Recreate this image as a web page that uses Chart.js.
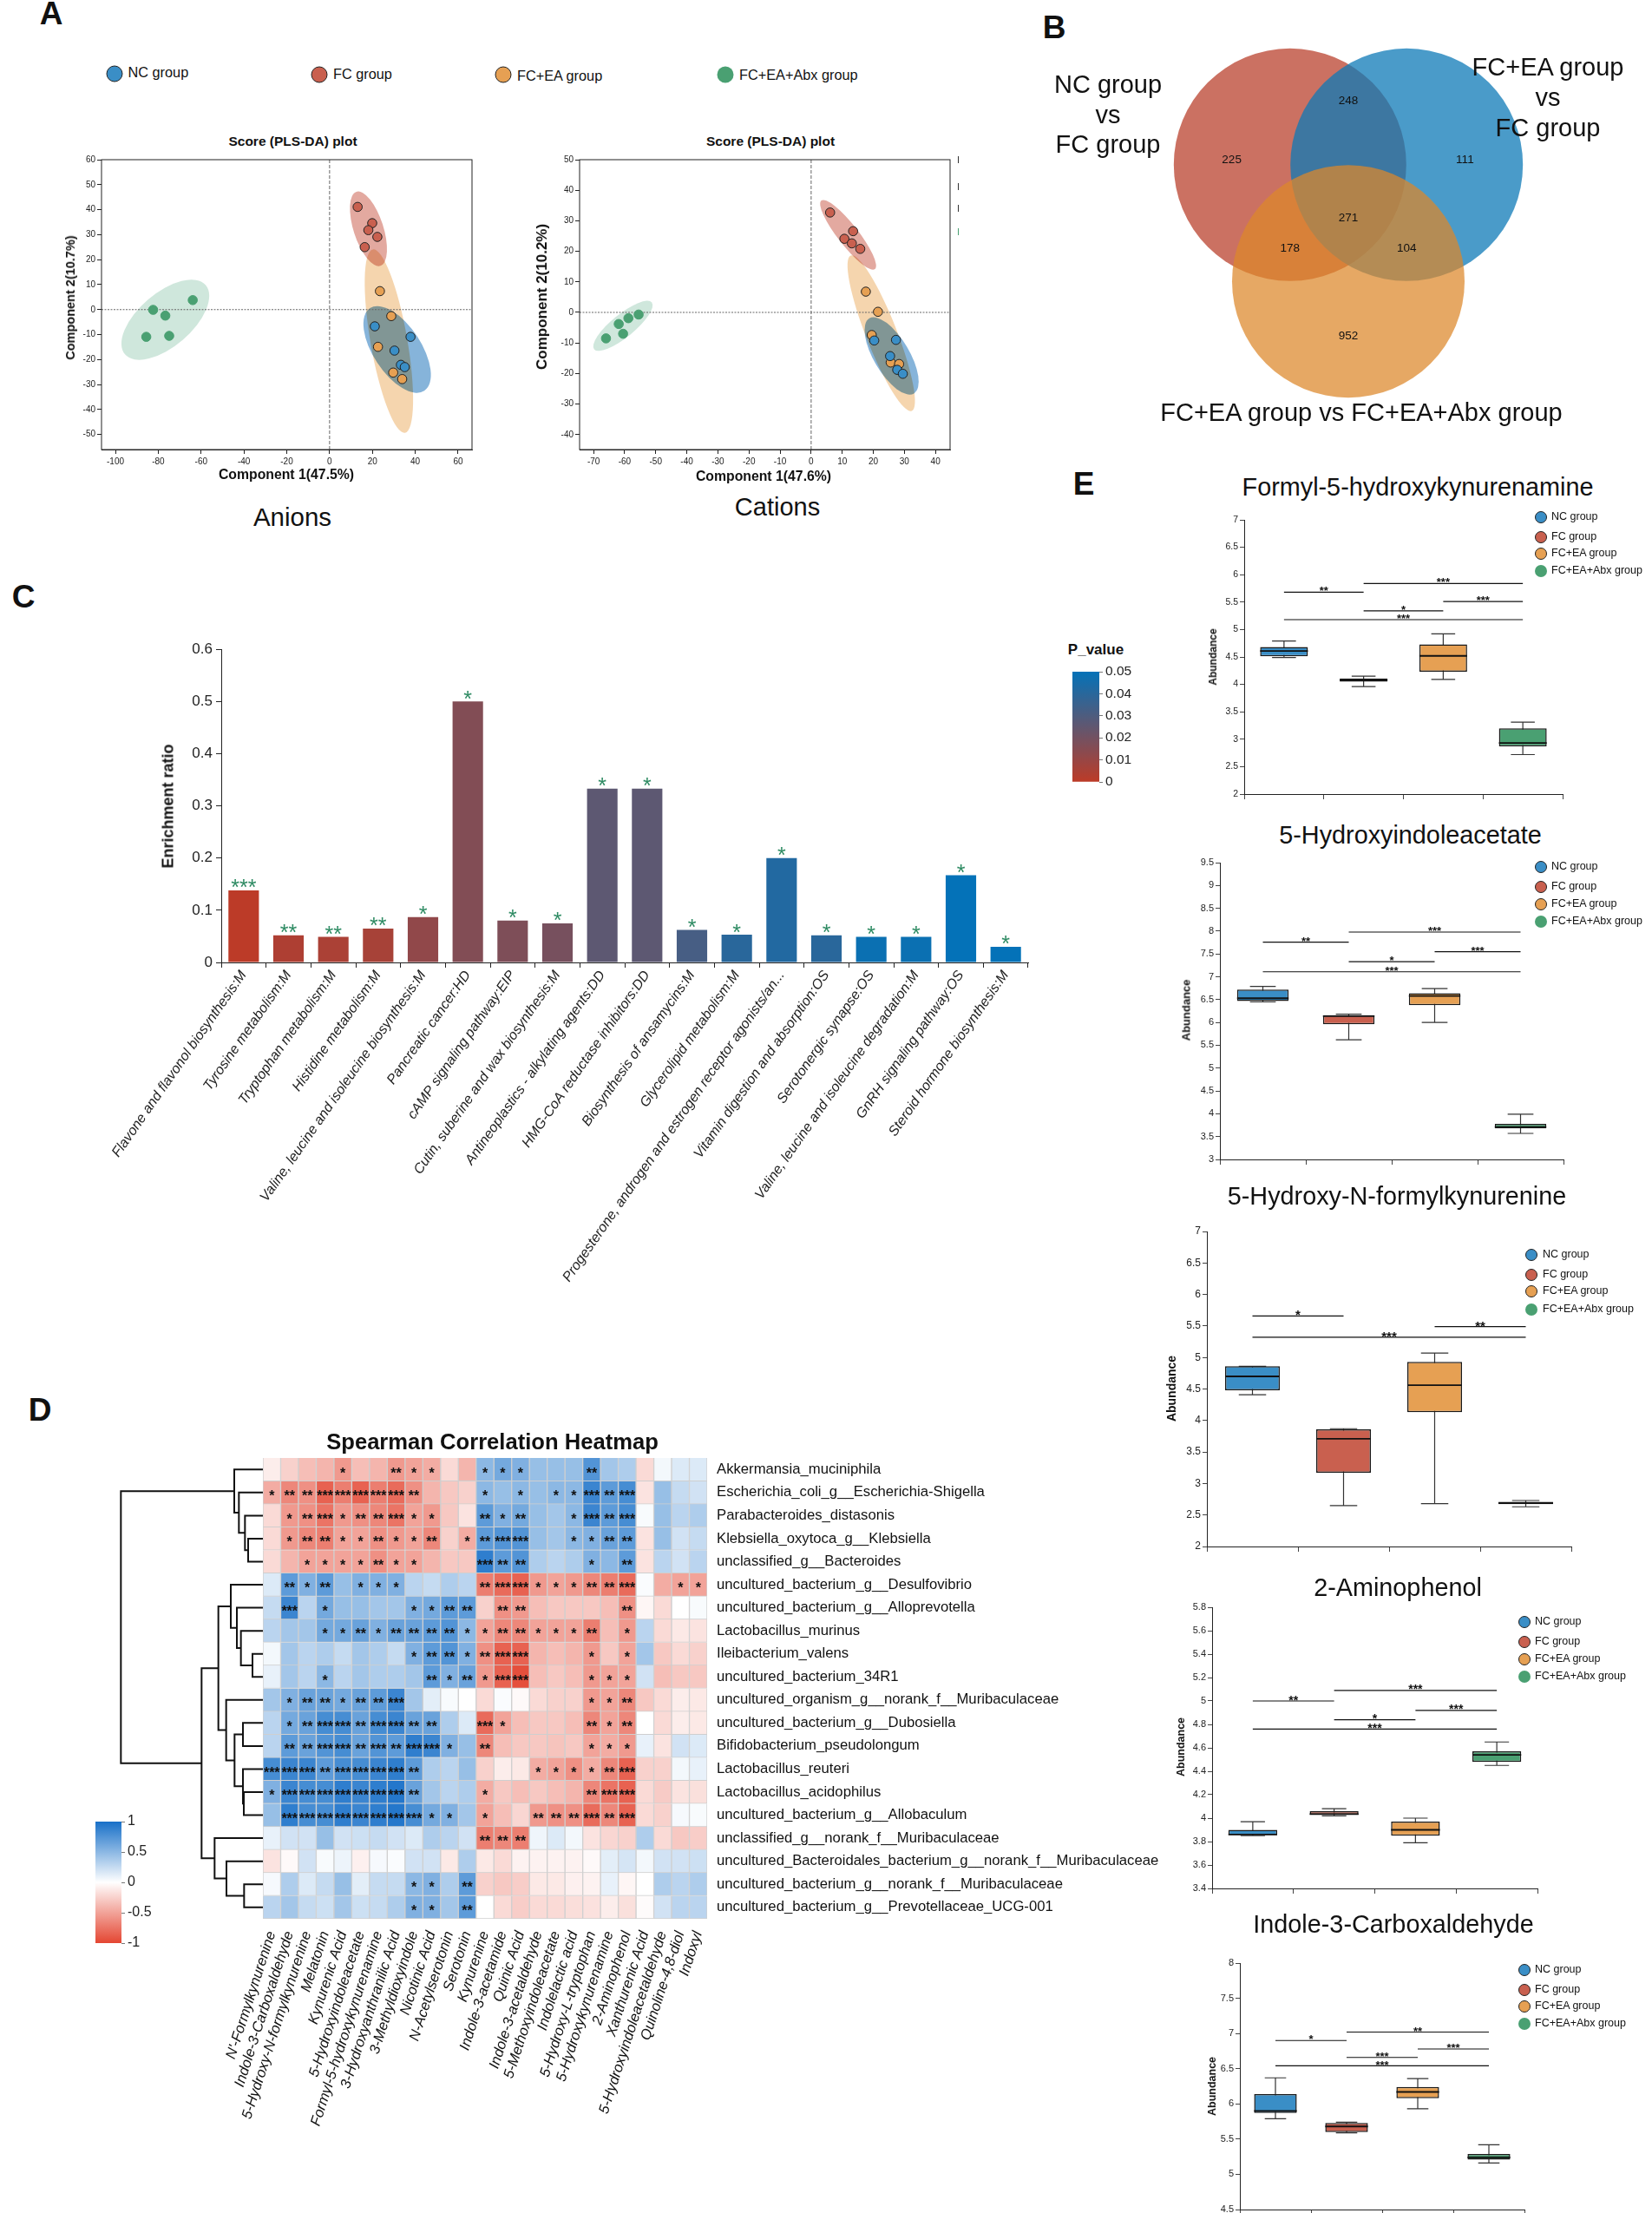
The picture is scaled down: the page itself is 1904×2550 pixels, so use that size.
<!DOCTYPE html>
<html>
<head>
<meta charset="utf-8">
<title>Metabolomics figure</title>
<script src="https://cdn.jsdelivr.net/npm/chart.js@4"></script>
<style>
  html, body { margin: 0; background: #fff; }
  #page { position: relative; width: 1904px; height: 2550px; overflow: hidden; font-family: "Liberation Sans", Arial, sans-serif; color: #111; }
  #page canvas { position: absolute; }
  .txt { position: absolute; white-space: pre; transform: translate(-50%, -50%); }
  .txt.left { transform: translate(0, -50%); }
  .dot { position: absolute; border-radius: 50%; transform: translate(-50%, -50%); box-sizing: border-box; }
</style>
</head>
<body>
<div id="page"></div>
<script>
// --- group info ---
const groupNames = ['NC group', 'FC group', 'FC+EA group', 'FC+EA+Abx group'];
const groupColors = ['#3A8EC6', '#C9604F', '#E6A053', '#4AA072'];
const ellipseColors = ['#86B4DA', '#E3A9A0', '#F5D5AE', '#CFE7DC'];

// --- A: PLS-DA scores, [x, y] per sample ---
const anionNC = [[21.1,-6.7],[37.8,-10.9],[30.3,-16.4],[33.3,-22.1],[35.1,-23]];
const anionFC = [[13.1,41.1],[19.9,34.6],[18.1,31.8],[22.3,29.1],[16.4,25]];
const anionEA = [[23.5,7.4],[28.8,-2.6],[22.6,-14.9],[29.7,-25.2],[33.9,-27.8]];
const anionAbx = [[-63.9,3.8],[-82.4,-0.1],[-76.7,-2.4],[-85.6,-10.9],[-74.9,-10.5]];
const cationNC = [[20.3,-9.2],[27.3,-9],[25.4,-14.3],[27.7,-18.8],[29.5,-20.1]];
const cationFC = [[6.1,32.7],[13.5,26.6],[10.7,24.1],[13.1,22.6],[15.8,20.8]];
const cationEA = [[17.6,6.8],[21.5,0.2],[19.5,-7.4],[25.6,-16.4],[28.3,-16.9]];
const cationAbx = [[-55.5,-0.7],[-58.8,-1.9],[-61.9,-3.8],[-60.5,-7],[-66,-8.5]];
// confidence ellipses: xMin, xMax, yTop, yBottom, x at the top of the ellipse
const anionEllipses = [[15.8,47.3,1.4,-33.3,22.3],[9.5,26.8,47.3,17.4,13.4],[16.4,39,24.1,-49.3,20.5],[-97.2,-56.2,12,-20.1,-64.5]];
const cationEllipses = [[17.2,34.6,-1.6,-26.9,20.1],[2.9,20.9,36.8,14,3.9],[11.7,33.4,18.7,-32.3,13.1],[-70.1,-51,3.8,-12.6,-52.7]];
const anionXTicks = [-100,-80,-60,-40,-20,0,20,40,60];
const anionYTicks = [-50,-40,-30,-20,-10,0,10,20,30,40,50,60];
const cationXTicks = [-70,-60,-50,-40,-30,-20,-10,0,10,20,30,40];
const cationYTicks = [-40,-30,-20,-10,0,10,20,30,40,50];

// --- B: venn ---
const vennCircleX = [-0.5, 0.5, 0];
const vennCircleY = [0.5, 0.5, -0.5];
const vennCounts = ['225','248','111','271','178','104','952'];
const vennCountX = [-1, 0, 1, 0, -0.5, 0.5, 0];
const vennCountY = [0.54, 1.05, 0.54, 0.04, -0.22, -0.22, -0.97];

// --- C: enrichment ---
const pathways = ['Flavone and flavonol biosynthesis:M','Tyrosine metabolism:M','Tryptophan metabolism:M','Histidine metabolism:M','Valine, leucine and isoleucine biosynthesis:M','Pancreatic cancer:HD','cAMP signaling pathway:EIP','Cutin, suberine and wax biosynthesis:M','Antineoplastics - alkylating agents:DD','HMG-CoA reductase inhibitors:DD','Biosynthesis of ansamycins:M','Glycerolipid metabolism:M','Progesterone, androgen and estrogen receptor agonists/an...','Vitamin digestion and absorption:OS','Serotonergic synapse:OS','Valine, leucine and isoleucine degradation:M','GnRH signaling pathway:OS','Steroid hormone biosynthesis:M'];
const enrichment = [0.138,0.052,0.049,0.065,0.087,0.5,0.08,0.075,0.333,0.333,0.0625,0.053,0.2,0.052,0.049,0.049,0.167,0.03];
const pValues = [0.0003,0.004,0.005,0.006,0.012,0.016,0.017,0.019,0.026,0.026,0.032,0.04,0.042,0.04,0.048,0.048,0.05,0.05];
const pathwayStars = ['***','**','**','**','*','*','*','*','*','*','*','*','*','*','*','*','*','*'];

// --- D: heatmap ---
const metabolites = ["N'-Formylkynurenine",'Indole-3-Carboxaldehyde','5-Hydroxy-N-formylkynurenine','Melatonin','Kynurenic Acid','5-Hydroxyindoleacetate','Formyl-5-hydroxykynurenamine','3-Hydroxyanthranilic Acid','3-Methyldioxyindole','Nicotinic Acid','N-Acetylserotonin','Serotonin','Kynurenine','Indole-3-acetamide','Quinic Acid','Indole-3-acetaldehyde','5-Methoxyindoleacetate','Indolelactic acid','5-Hydroxy-L-tryptophan','5-Hydroxykynurenamine','2-Aminophenol','Xanthurenic Acid','5-Hydroxyindoleacetaldehyde','Quinoline-4,8-diol','Indoxyl'];
const taxa = ['Akkermansia_muciniphila','Escherichia_coli_g__Escherichia-Shigella','Parabacteroides_distasonis','Klebsiella_oxytoca_g__Klebsiella','unclassified_g__Bacteroides','uncultured_bacterium_g__Desulfovibrio','uncultured_bacterium_g__Alloprevotella','Lactobacillus_murinus','Ileibacterium_valens','uncultured_bacterium_34R1','uncultured_organism_g__norank_f__Muribaculaceae','uncultured_bacterium_g__Dubosiella','Bifidobacterium_pseudolongum','Lactobacillus_reuteri','Lactobacillus_acidophilus','uncultured_bacterium_g__Allobaculum','unclassified_g__norank_f__Muribaculaceae','uncultured_Bacteroidales_bacterium_g__norank_f__Muribaculaceae','uncultured_bacterium_g__norank_f__Muribaculaceae','uncultured_bacterium_g__Prevotellaceae_UCG-001'];
const correlations = [
  [-.1,-.25,-.35,-.4,-.55,-.35,-.4,-.55,-.5,-.45,-.2,-.4,.5,.6,.55,.45,.45,.45,.75,.4,.35,-.2,.05,.15,.15],
  [-.45,-.65,-.6,-.85,-.7,-.85,-.7,-.8,-.6,-.4,-.3,-.25,.5,.45,.5,.45,.5,.5,.85,.7,.8,-.15,.45,.25,.2],
  [-.2,-.55,-.6,-.75,-.55,-.6,-.65,-.75,-.5,-.55,-.3,-.15,.7,.55,.6,.45,.4,.5,.85,.7,.8,.03,.45,.3,.35],
  [-.2,-.55,-.65,-.7,-.5,-.5,-.6,-.55,-.5,-.65,-.25,-.45,.7,.75,.75,.45,.4,.5,.55,.65,.7,-.15,.45,.2,.25],
  [-.2,-.4,-.5,-.5,-.5,-.5,-.6,-.5,-.5,-.4,-.3,-.3,.9,.7,.75,.35,.3,.35,.55,.5,.7,-.15,.3,.2,.3],
  [.15,.7,.55,.7,.45,.55,.55,.55,.3,.25,.35,.3,-.7,-.8,-.85,-.55,-.5,-.55,-.65,-.7,-.8,.02,-.45,-.5,-.5],
  [.25,.85,.3,.6,.45,.45,.4,.4,.55,.6,.7,.7,-.25,-.6,-.55,-.35,-.3,-.3,-.3,-.35,-.6,-.05,-.2,0,.03],
  [.3,.4,.4,.6,.6,.65,.55,.65,.65,.7,.75,.5,-.5,-.65,-.65,-.5,-.5,-.5,-.7,-.35,-.55,.3,-.2,-.12,-.15],
  [.05,.4,.3,.35,.25,.4,.35,.25,.55,.7,.75,.55,-.6,-.85,-.85,-.4,-.35,-.4,-.55,-.3,-.5,.4,-.3,-.2,-.25],
  [.1,.4,.3,.5,.3,.4,.35,.35,.4,.7,.55,.65,-.55,-.85,-.95,-.35,-.3,-.35,-.55,-.5,-.5,.2,-.35,-.3,-.3],
  [.4,.55,.65,.65,.6,.65,.7,.85,.4,.12,.03,0,-.2,.02,-.03,-.2,-.25,-.25,-.55,-.5,-.65,-.3,-.2,-.1,-.12],
  [.3,.6,.65,.8,.8,.65,.8,.85,.65,.65,.35,.15,-.8,-.5,-.35,-.3,-.3,-.35,-.65,-.5,-.65,0,-.2,-.1,-.12],
  [.3,.7,.65,.75,.8,.65,.75,.7,.9,.85,.55,.45,-.65,-.35,-.3,-.3,-.32,-.3,-.5,-.45,-.55,.1,-.15,.2,.15],
  [.8,.85,.85,.7,.8,.8,.85,.9,.7,.35,.3,.45,-.25,-.1,-.12,-.45,-.5,-.6,-.45,-.65,-.85,-.25,-.25,.05,.1],
  [.55,.85,.8,.8,.9,.85,.9,.95,.65,.4,.3,.35,-.45,-.3,-.35,-.3,-.35,-.4,-.65,-.75,-.85,-.2,-.28,-.15,-.17],
  [.45,.9,.8,.8,.9,.85,.9,.95,.8,.6,.55,.4,-.5,-.35,-.22,-.55,-.6,-.6,-.8,-.65,-.85,-.2,-.25,.04,.03],
  [.1,.2,.2,.45,.2,.22,.25,.2,.15,.35,.3,.2,-.7,-.65,-.7,.07,.15,.05,-.15,-.22,-.25,.35,-.2,-.3,-.27],
  [-.15,-.03,.2,.03,.08,-.08,.04,.02,.2,.2,-.12,.35,-.12,-.2,-.07,-.07,-.07,-.07,-.03,.12,.18,.05,.2,.2,.22],
  [.04,.35,.15,.25,.45,.12,.25,.25,.5,.55,.35,.7,-.25,-.3,-.27,-.12,-.12,-.08,-.07,.1,-.05,0,.35,.3,.35],
  [.3,.4,.25,.22,.4,.22,.25,.35,.55,.55,.4,.7,0,-.2,-.27,-.2,-.2,-.18,-.16,-.1,-.17,-.02,.2,.3,.3]
];
const starCounts = [
  '0000100211001110002000000','1223333320001010113230000','0123122311002120013230000',
  '0122112112012330011220000','0011112110003220001020000','0212011100002331112230011',
  '0301000011220220000020000','0001121222211221112010000','0000000012212330001010000',
  '0001000002121330001110000','0122122300000000001120000','0123323322003100002120000',
  '0223323233102000001110000','3332333320000001111230000','1333333320001000002330000',
  '0333333331101002223230000','0000000000002220000000000','0000000000000000000000000',
  '0000000011020000000000000','0000000011020000000000000'
];
// dendrogram merges: [child, child, height]; child >= 0 is a row, child < 0 is merge -(child + 1)
const dendroMerges = [[3,4,51],[2,-1,62],[1,-2,83],[0,-3,99],[8,9,36],[7,-5,76],[6,-6,90],[5,-7,111],[11,12,69],[14,15,66],[13,-10,69],[-9,-11,98],[10,-12,127],[-8,-13,154],[18,19,65],[17,-15,126],[16,-16,167],[-14,-17,212],[-4,-18,491]];

// --- E: boxes, [low, q1, median, q3, high] per group; brackets [from, to, y, stars] ---
const formylBoxes = [[4.49,4.51,4.61,4.68,4.79],[3.96,4.05,4.08,4.11,4.15],[4.09,4.23,4.52,4.73,4.92],[2.72,2.87,2.93,3.2,3.31]];
const formylBrackets = [[0,1,5.68,'**'],[1,3,5.84,'***'],[2,3,5.51,'***'],[1,2,5.34,'*'],[0,3,5.18,'***']];
const hiaaBoxes = [[6.45,6.47,6.53,6.72,6.79],[5.62,5.96,6.14,6.16,6.18],[6,6.38,6.58,6.64,6.74],[3.57,3.68,3.71,3.78,3.99]];
const hiaaBrackets = [[0,1,7.76,'**'],[1,3,7.98,'***'],[2,3,7.55,'***'],[1,2,7.33,'*'],[0,3,7.11,'***']];
const nfkBoxes = [[4.41,4.48,4.7,4.86,4.86],[2.65,3.17,3.71,3.86,3.87],[2.68,4.13,4.56,4.93,5.07],[2.63,2.67,2.69,2.71,2.73]];
const nfkBrackets = [[0,1,5.66,'*'],[2,3,5.49,'**'],[0,3,5.32,'***']];
const aminoBoxes = [[3.85,3.855,3.86,3.9,3.97],[4.02,4.03,4.035,4.06,4.08],[3.79,3.85,3.9,3.97,4],[4.45,4.48,4.54,4.57,4.65]];
const aminoBrackets = [[0,1,5,'**'],[1,3,5.09,'***'],[2,3,4.92,'***'],[1,2,4.84,'*'],[0,3,4.76,'***']];
const icaBoxes = [[5.79,5.87,5.9,6.14,6.37],[5.59,5.6,5.68,5.73,5.74],[5.93,6.08,6.17,6.24,6.36],[5.16,5.21,5.24,5.29,5.42]];
const icaBrackets = [[0,1,6.9,'*'],[1,3,7.02,'**'],[2,3,6.78,'***'],[1,2,6.66,'***'],[0,3,6.54,'***']];

// ---------------------------------------------------------------------------
const FONT = '"Liberation Sans", Arial, sans-serif';
Chart.defaults.font.family = FONT;
Chart.defaults.color = '#222';
Chart.defaults.animation = false;
Chart.defaults.responsive = false;
Chart.defaults.plugins.legend.display = false;
Chart.defaults.plugins.tooltip.enabled = false;

const page = document.getElementById('page');

function label(text, x, y, size, opts = {}) {
    const el = document.createElement('div');
    el.className = 'txt' + (opts.left ? ' left' : '');
    el.textContent = text;
    el.style.left = x + 'px';
    el.style.top = y + 'px';
    el.style.fontSize = size + 'px';
    if (opts.bold) el.style.fontWeight = 'bold';
    if (opts.rotate) el.style.transform = `translate(-50%, -50%) rotate(${opts.rotate}deg)`;
    el.style.zIndex = 5;
    page.appendChild(el);
}

function dot(x, y, d, color, outline) {
    const el = document.createElement('div');
    el.className = 'dot';
    el.style.cssText = `left:${x}px;top:${y}px;width:${d}px;height:${d}px;background:${color};z-index:5;` +
        (outline ? 'border:1px solid #222;' : '');
    page.appendChild(el);
}

// plot is the wanted chart area, m the room around it for ticks
function placeChart(plot, m, config) {
    const canvas = document.createElement('canvas');
    canvas.width = plot.w + m.l + m.r;
    canvas.height = plot.h + m.t + m.b;
    canvas.style.left = (plot.x - m.l) + 'px';
    canvas.style.top = (plot.y - m.t) + 'px';
    page.appendChild(canvas);
    const scales = config.options.scales;
    const yRight = scales.y.position === 'right';
    config.options.layout = {
        autoPadding: false,
        padding: { top: m.t, left: yRight ? m.l : 0, right: yRight ? 0 : m.r, bottom: 0 }
    };
    // rotated labels ask for extra room, which would move the chart area
    const noPadding = s => { s.paddingLeft = s.paddingRight = s.paddingTop = s.paddingBottom = 0; };
    scales.x.afterFit = s => { s.height = m.b; noPadding(s); };
    scales.y.afterFit = s => { s.width = yRight ? m.r : m.l; noPadding(s); };
    return new Chart(canvas.getContext('2d'), config);
}

function fixedTicks(values) {
    return s => { s.ticks = values.map(v => ({ value: v })); };
}

function tickGrid(len, color) {
    return { drawOnChartArea: false, drawTicks: true, tickLength: len, color: color || '#222', lineWidth: 1 };
}

function drawStars(ctx, text, x, cy, size, color, weight) {
    ctx.save();
    ctx.font = `${weight || 'normal'} ${size}px ${FONT}`;
    ctx.fillStyle = color;
    ctx.textAlign = 'center';
    ctx.textBaseline = 'alphabetic';
    ctx.fillText(text, x, cy + 0.58 * size);
    ctx.restore();
}

function mix(a, b, t) {
    return `rgb(${a.map((c, i) => Math.round(c + (b[i] - c) * t)).join(',')})`;
}

// --- A ---
function scoreChart(plot, nc, fc, ea, abx, ellipses, xMin, xMax, xTicks, yMin, yMax, yTicks) {
    const sets = [abx, fc, nc, ea];
    const setColor = [3, 1, 0, 2];
    placeChart(plot, { l: 40, t: 10, r: 10, b: 30 }, {
        type: 'scatter',
        data: {
            datasets: sets.map((s, i) => ({
                data: s.map(p => ({ x: p[0], y: p[1] })),
                backgroundColor: groupColors[setColor[i]],
                borderColor: setColor[i] === 3 ? groupColors[3] : '#222',
                borderWidth: 1,
                pointRadius: 5.3
            }))
        },
        options: {
            scales: {
                x: { type: 'linear', min: xMin, max: xMax, afterBuildTicks: fixedTicks(xTicks), grid: tickGrid(5),
                     border: { color: '#333' }, ticks: { font: { size: 10 }, padding: 3, maxRotation: 0, autoSkip: false, callback: v => String(v) } },
                y: { min: yMin, max: yMax, afterBuildTicks: fixedTicks(yTicks), grid: tickGrid(5),
                     border: { color: '#222' }, ticks: { font: { size: 10 }, padding: 2, autoSkip: false, callback: v => String(v) } }
            }
        },
        plugins: [{
            id: 'scoreExtras',
            beforeDatasetsDraw(chart) {
                const { ctx, chartArea: a, scales: { x, y } } = chart;
                ctx.save();
                ctx.fillStyle = '#fff';
                ctx.fillRect(a.left, a.top, a.width, a.height);
                ctx.globalCompositeOperation = 'multiply';
                ellipses.forEach((e, i) => {
                    const l = x.getPixelForValue(e[0]), r = x.getPixelForValue(e[1]);
                    const t = y.getPixelForValue(e[2]), b = y.getPixelForValue(e[3]);
                    const cx = (l + r) / 2, cy = (t + b) / 2, hw = (r - l) / 2, hh = (b - t) / 2;
                    const cov = -(x.getPixelForValue(e[4]) - cx) * hh;
                    const d = hw * hw - hh * hh, sum = hw * hw + hh * hh;
                    const diff = Math.sqrt(d * d + 4 * cov * cov);
                    ctx.beginPath();
                    ctx.ellipse(cx, cy, Math.sqrt((sum + diff) / 2), Math.sqrt(Math.max(sum - diff, 0) / 2), Math.atan2(2 * cov, d) / 2, 0, Math.PI * 2);
                    ctx.fillStyle = ellipseColors[i];
                    ctx.fill();
                });
                ctx.globalCompositeOperation = 'source-over';
                ctx.strokeStyle = '#666';
                ctx.lineWidth = 1;
                ctx.setLineDash([4, 2]);
                ctx.beginPath();
                ctx.moveTo(x.getPixelForValue(0), a.top);
                ctx.lineTo(x.getPixelForValue(0), a.bottom);
                ctx.stroke();
                ctx.setLineDash([2, 1.5]);
                ctx.beginPath();
                ctx.moveTo(a.left, y.getPixelForValue(0));
                ctx.lineTo(a.right, y.getPixelForValue(0));
                ctx.stroke();
                ctx.setLineDash([]);
                ctx.strokeStyle = '#222';
                ctx.strokeRect(a.left, a.top, a.width, a.height);
                ctx.restore();
            }
        }]
    });
}

scoreChart({ x: 117, y: 184, w: 427, h: 334 }, anionNC, anionFC, anionEA, anionAbx, anionEllipses, -106.5, 66.5, anionXTicks, -56, 60, anionYTicks);
scoreChart({ x: 668, y: 184, w: 427, h: 334 }, cationNC, cationFC, cationEA, cationAbx, cationEllipses, -74.5, 44.7, cationXTicks, -44.9, 50, cationYTicks);

label('A', 59, 16, 37, { bold: true });
[[132, 85, 147.5, 83], [367.6, 86, 384, 85], [580, 86, 596, 86.5], [836, 86, 852, 86]].forEach((p, i) => {
    dot(p[0], p[1], 19, groupColors[i], i < 3);
    label(groupNames[i], p[2], p[3], 16.3, { left: true });
});
label('Score (PLS-DA) plot', 337.5, 163, 15.5, { bold: true });
label('Score (PLS-DA) plot', 888, 163, 15.5, { bold: true });
label('Component 1(47.5%)', 330, 547, 15.8, { bold: true });
label('Component 1(47.6%)', 880, 549, 15.8, { bold: true });
label('Component 2(10.7%)', 81, 343, 14.5, { bold: true, rotate: -90 });
label('Component 2(10.2%)', 625, 342, 17, { bold: true, rotate: -90 });
label('Anions', 337, 596, 29.5);
label('Cations', 896, 584, 29);
[[184, '#333'], [215, '#333'], [240, '#333'], [267, '#4AA072']].forEach(m => {
    const tick = document.createElement('div');
    tick.style.cssText = `position:absolute;left:1104px;top:${m[0] - 4}px;width:1px;height:8px;background:${m[1]};`;
    page.appendChild(tick);
});

// --- B ---
const vennFills = ['rgb(203,113,98)', 'rgba(14,122,183,0.75)', 'rgba(221,136,43,0.73)'];
placeChart({ x: 1339, y: 42, w: 430, h: 430 }, { l: 0, t: 0, r: 0, b: 0 }, {
    type: 'bubble',
    data: {
        datasets: [{
            data: vennCircleX.map((x, i) => ({ x, y: vennCircleY[i], r: 134 })),
            backgroundColor: vennFills,
            borderWidth: 0,
            clip: false
        }]
    },
    options: {
        scales: {
            x: { type: 'linear', min: -1.6, max: 1.6, display: false },
            y: { min: -1.6, max: 1.6, display: false }
        }
    },
    plugins: [{
        id: 'vennCounts',
        afterDatasetsDraw(chart) {
            const { ctx, scales: { x, y } } = chart;
            ctx.save();
            ctx.font = `13.5px ${FONT}`;
            ctx.fillStyle = '#111';
            ctx.textAlign = 'center';
            ctx.textBaseline = 'middle';
            vennCounts.forEach((c, i) => ctx.fillText(c, x.getPixelForValue(vennCountX[i]), y.getPixelForValue(vennCountY[i])));
            ctx.restore();
        }
    }]
});
label('B', 1215, 32, 37, { bold: true });
label('NC group', 1277, 97, 29);
label('vs', 1277, 132, 29);
label('FC group', 1277, 166, 29);
label('FC+EA group', 1784, 77, 29);
label('vs', 1784, 112, 29);
label('FC group', 1784, 147, 29);
label('FC+EA group vs FC+EA+Abx group', 1569, 475, 29);

// --- C ---
const pLow = [189, 59, 39], pHigh = [4, 114, 184];
placeChart({ x: 255, y: 748, w: 930, h: 361 }, { l: 200, t: 10, r: 10, b: 420 }, {
    type: 'bar',
    data: {
        labels: pathways,
        datasets: [{
            data: enrichment,
            backgroundColor: pValues.map(p => mix(pLow, pHigh, p / 0.05)),
            barPercentage: 0.68,
            categoryPercentage: 1
        }]
    },
    options: {
        scales: {
            x: { grid: tickGrid(6), border: { color: '#222' },
                 ticks: { autoSkip: false, minRotation: 55, maxRotation: 55, padding: 0, color: '#222', font: { size: 16, style: 'italic' } } },
            y: { min: 0, max: 0.6, grid: tickGrid(6), border: { color: '#222' },
                 ticks: { stepSize: 0.1, padding: 4, font: { size: 17 }, callback: v => +v.toFixed(1) } }
        }
    },
    plugins: [{
        id: 'pathwayStars',
        afterDatasetsDraw(chart) {
            chart.getDatasetMeta(0).data.forEach((bar, i) => {
                drawStars(chart.ctx, pathwayStars[i], bar.x, bar.y - 9, 25, '#2E8B63');
            });
        }
    }]
});
label('C', 27, 688, 37, { bold: true });
label('Enrichment ratio', 194, 929, 18, { bold: true, rotate: -90 });
label('P_value', 1263, 749, 17, { bold: true });

function colorBar(plot, min, max, step, stops, tickSize, m) {
    placeChart(plot, m, {
        type: 'bar',
        data: {
            labels: [''],
            datasets: [{
                data: [[min, max]],
                borderSkipped: false,
                barPercentage: 1,
                categoryPercentage: 1,
                backgroundColor(c) {
                    const a = c.chart.chartArea;
                    if (!a) return '#888';
                    const g = c.chart.ctx.createLinearGradient(0, a.bottom, 0, a.top);
                    stops.forEach((s, i) => g.addColorStop(i / (stops.length - 1), s));
                    return g;
                }
            }]
        },
        options: {
            scales: {
                x: { display: false },
                y: { position: 'right', min, max, border: { display: false }, grid: { drawOnChartArea: false, tickLength: 4, color: '#777' },
                     ticks: { stepSize: step, padding: 3, font: { size: tickSize }, callback: v => +v.toFixed(2) } }
            }
        }
    });
}
colorBar({ x: 1236, y: 774, w: 31, h: 127 }, 0, 0.05, 0.01, ['rgb(189,59,39)', 'rgb(4,114,184)'], 15.5, { l: 0, t: 8, r: 50, b: 8 });

// --- D ---
function heatColor(v) {
    return v >= 0 ? mix([255, 255, 255], [24, 112, 200], v) : mix([255, 255, 255], [228, 70, 50], -v);
}
placeChart({ x: 303, y: 1680, w: 512, h: 531 }, { l: 110, t: 5, r: 560, b: 240 }, {
    type: 'bar',
    data: {
        labels: metabolites,
        datasets: taxa.map((name, r) => ({
            label: name,
            data: metabolites.map(() => 1),
            backgroundColor: correlations[r].map(heatColor),
            borderColor: '#CFCFCF',
            borderWidth: 1,
            barPercentage: 1,
            categoryPercentage: 1
        }))
    },
    options: {
        scales: {
            x: { stacked: true, grid: { display: false, drawTicks: false }, border: { display: false },
                 ticks: { autoSkip: false, minRotation: 72, maxRotation: 72, padding: 12, color: '#111', font: { size: 16.7, style: 'italic' } } },
            y: { stacked: true, position: 'right', reverse: true, min: 0, max: 20,
                 afterBuildTicks: fixedTicks(taxa.map((_, r) => r + 0.5)),
                 grid: { display: false, drawTicks: false }, border: { display: false },
                 ticks: { autoSkip: false, padding: 11, color: '#111', font: { size: 16.7 }, callback: (v, i) => taxa[i] } }
        }
    },
    plugins: [{
        id: 'heatStars',
        afterDatasetsDraw(chart) {
            const { ctx, scales: { x, y } } = chart;
            starCounts.forEach((row, r) => {
                [...row].forEach((n, c) => {
                    if (n !== '0') drawStars(ctx, '*'.repeat(+n), x.getPixelForValue(c), y.getPixelForValue(r + 0.5), 16, '#111', 'bold');
                });
            });
        }
    }]
});

// dendrogram, one 4-point line per merge
const dendroPos = [], dendroHeight = [];
const childPos = c => (c >= 0 ? c + 0.5 : dendroPos[-c - 1]);
const childHeight = c => (c >= 0 ? 0 : dendroHeight[-c - 1]);
const dendroLines = dendroMerges.map((m, i) => {
    const [a, b, h] = m;
    dendroPos[i] = (childPos(a) + childPos(b)) / 2;
    dendroHeight[i] = h;
    return {
        data: [{ x: childHeight(a), y: childPos(a) }, { x: h, y: childPos(a) }, { x: h, y: childPos(b) }, { x: childHeight(b), y: childPos(b) }],
        showLine: true, borderColor: '#111', borderWidth: 2, pointRadius: 0, clip: false
    };
});
placeChart({ x: 135, y: 1680, w: 168, h: 531 }, { l: 0, t: 0, r: 0, b: 0 }, {
    type: 'scatter',
    data: { datasets: dendroLines },
    options: {
        scales: {
            x: { type: 'linear', min: 0, max: 504, reverse: true, display: false },
            y: { min: 0, max: 20, reverse: true, display: false }
        }
    }
});
label('D', 46, 1625, 37, { bold: true });
label('Spearman Correlation Heatmap', 567.5, 1661, 25.6, { bold: true });
colorBar({ x: 110, y: 2099, w: 30, h: 140 }, -1, 1, 0.5, ['rgb(228,70,50)', '#fff', 'rgb(24,112,200)'], 16, { l: 0, t: 10, r: 45, b: 10 });

// --- E ---
function boxChart(plot, boxes, brackets, yMin, yMax, step, tickSize, starSize) {
    placeChart(plot, { l: 32, t: 8, r: 6, b: 8 }, {
        type: 'bar',
        data: {
            labels: groupNames,
            datasets: [{
                data: boxes.map(b => [b[1], b[3]]),
                backgroundColor: groupColors,
                borderColor: '#1A1A1A',
                borderWidth: 1.5,
                borderSkipped: false,
                barPercentage: 0.6,
                categoryPercentage: 1
            }]
        },
        options: {
            scales: {
                x: { grid: tickGrid(6, '#444'), border: { color: '#222' }, ticks: { callback: () => '', maxRotation: 0 } },
                y: { min: yMin, max: yMax, grid: tickGrid(5, '#444'), border: { color: '#222' },
                     ticks: { stepSize: step, padding: 2, font: { size: tickSize }, callback: v => +v.toFixed(1) } }
            }
        },
        plugins: [{
            id: 'boxMarks',
            beforeDatasetsDraw(chart) {
                const { ctx, scales: { y } } = chart;
                ctx.save();
                ctx.strokeStyle = '#333';
                ctx.lineWidth = 1.2;
                chart.getDatasetMeta(0).data.forEach((bar, i) => {
                    const cap = bar.width / 4;
                    ctx.beginPath();
                    ctx.moveTo(bar.x, y.getPixelForValue(boxes[i][0]));
                    ctx.lineTo(bar.x, y.getPixelForValue(boxes[i][4]));
                    [0, 4].forEach(k => {
                        ctx.moveTo(bar.x - cap, y.getPixelForValue(boxes[i][k]));
                        ctx.lineTo(bar.x + cap, y.getPixelForValue(boxes[i][k]));
                    });
                    ctx.stroke();
                });
                ctx.restore();
            },
            afterDatasetsDraw(chart) {
                const { ctx, scales: { x, y } } = chart;
                ctx.save();
                ctx.strokeStyle = '#111';
                ctx.lineWidth = 1.8;
                chart.getDatasetMeta(0).data.forEach((bar, i) => {
                    ctx.beginPath();
                    ctx.moveTo(bar.x - bar.width / 2, y.getPixelForValue(boxes[i][2]));
                    ctx.lineTo(bar.x + bar.width / 2, y.getPixelForValue(boxes[i][2]));
                    ctx.stroke();
                });
                ctx.lineWidth = 1.2;
                brackets.forEach(s => {
                    const x0 = x.getPixelForValue(s[0]), x1 = x.getPixelForValue(s[1]), py = y.getPixelForValue(s[2]);
                    ctx.beginPath();
                    ctx.moveTo(x0, py);
                    ctx.lineTo(x1, py);
                    ctx.stroke();
                    drawStars(ctx, s[3], (x0 + x1) / 2, py - 4.5, starSize, '#111', 'bold');
                });
                ctx.restore();
            }
        }]
    });
}

function boxLegend(dotX, textX, ys) {
    ys.forEach((y, i) => {
        dot(dotX, y, 14, groupColors[i], i < 3);
        label(groupNames[i], textX, y - 1, 12.5, { left: true });
    });
}

boxChart({ x: 1434, y: 599, w: 367, h: 316 }, formylBoxes, formylBrackets, 2, 7, 0.5, 10.5, 13);
label('E', 1249, 558, 37, { bold: true });
label('Formyl-5-hydroxykynurenamine', 1634, 561, 28.8);
label('Abundance', 1398, 757, 12, { bold: true, rotate: -90 });
boxLegend(1776, 1788, [596, 619, 638, 658]);

boxChart({ x: 1406, y: 994, w: 396, h: 342 }, hiaaBoxes, hiaaBrackets, 3, 9.5, 0.5, 11, 13);
label('5-Hydroxyindoleacetate', 1625.5, 962, 28.8);
label('Abundance', 1367, 1164, 13, { bold: true, rotate: -90 });
boxLegend(1776, 1788, [999, 1022, 1042, 1062]);

boxChart({ x: 1391, y: 1419, w: 420, h: 363 }, nfkBoxes, nfkBrackets, 2, 7, 0.5, 12, 15);
label('5-Hydroxy-N-formylkynurenine', 1610, 1378, 28.8);
label('Abundance', 1350, 1600, 14, { bold: true, rotate: -90 });
boxLegend(1765, 1778, [1446, 1469, 1488, 1509]);

boxChart({ x: 1397, y: 1852, w: 375, h: 324 }, aminoBoxes, aminoBrackets, 3.4, 5.8, 0.2, 11, 14);
label('2-Aminophenol', 1611, 1829, 28.8);
label('Abundance', 1360.5, 2013, 12.5, { bold: true, rotate: -90 });
boxLegend(1757, 1769, [1869, 1892, 1912, 1932]);

boxChart({ x: 1429, y: 2262, w: 328, h: 284 }, icaBoxes, icaBrackets, 4.5, 8, 0.5, 11, 13);
label('Indole-3-Carboxaldehyde', 1606, 2217, 28.8);
label('Abundance', 1397, 2404, 12.5, { bold: true, rotate: -90 });
boxLegend(1757, 1769, [2270, 2293, 2312, 2332]);
</script>
</body>
</html>
